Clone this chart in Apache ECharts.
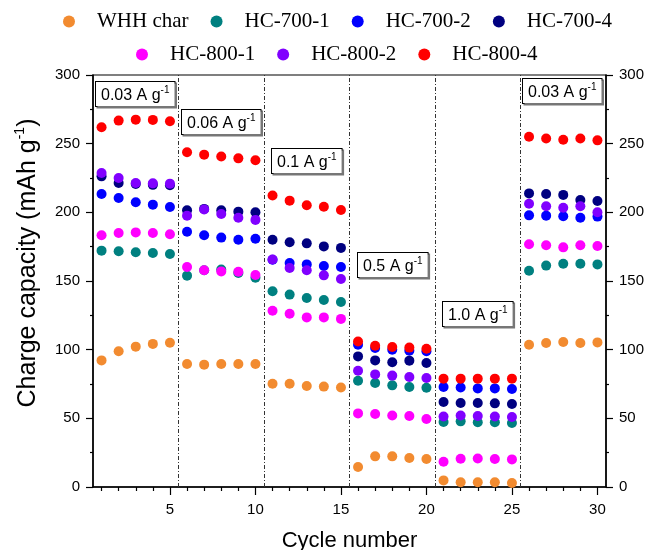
<!DOCTYPE html>
<html>
<head>
<meta charset="utf-8">
<script src="https://cdn.jsdelivr.net/npm/echarts@6/dist/echarts.min.js"></script>
<style>
  html, body { margin: 0; padding: 0; background: #fff; }
  #chart { width: 651px; height: 550px; }
</style>
</head>
<body>
<div id="chart"></div>
<script>
// cycle numbers (x)
const cycles = [1, 2, 3, 4, 5, 6, 7, 8, 9, 10, 11, 12, 13, 14, 15,
                16, 17, 18, 19, 20, 21, 22, 23, 24, 25, 26, 27, 28, 29, 30];

// charge capacity (mAh g-1)
const whhChar = [92.2, 98.8, 102.2, 104.2, 105.1, 89.6, 89.1, 89.6, 89.6, 89.6,
                 75.2, 75.2, 73.6, 73.1, 72.5, 14.6, 22.3, 22.3, 21.1, 20.4,
                 4.8, 3.4, 3.4, 3.4, 2.9, 103.6, 104.9, 105.6, 104.9, 105.3];
const hc7001 = [172.1, 171.6, 170.9, 170.4, 169.7, 153.9, 157.8, 158.3, 155.9, 152.4,
                142.5, 140.1, 137.6, 136.2, 134.7, 77.4, 75.7, 74.0, 72.8, 72.3,
                47.3, 47.8, 47.1, 47.1, 46.6, 157.5, 161.2, 162.6, 162.6, 162.1];
const hc7002 = [213.4, 210.5, 207.3, 205.6, 203.9, 185.9, 183.3, 181.6, 180.1, 180.8,
                165.5, 163.1, 162.1, 160.9, 160.2, 103.6, 101.2, 100.0, 99.3, 98.8,
                72.8, 72.5, 71.8, 71.8, 71.4, 197.8, 197.6, 197.1, 196.1, 196.9];
const hc7004 = [226.2, 221.4, 220.7, 220.0, 219.7, 201.5, 202.5, 201.5, 200.5, 200.0,
                180.1, 178.2, 177.4, 175.2, 174.1, 95.1, 92.2, 90.8, 92.0, 90.3,
                61.9, 61.2, 61.2, 60.9, 60.5, 213.8, 213.4, 212.7, 209.0, 208.3];
const hc8001 = [183.3, 185.0, 185.4, 185.0, 184.0, 160.2, 157.8, 157.0, 156.8, 154.4,
                128.4, 126.2, 123.5, 123.5, 122.4, 53.6, 53.2, 52.1, 51.7, 49.5,
                18.4, 20.6, 20.8, 20.4, 20.1, 176.7, 176.0, 174.5, 176.0, 175.5];
const hc8002 = [228.7, 225.0, 221.4, 221.1, 220.9, 197.6, 202.0, 198.8, 196.1, 194.5,
                165.6, 159.5, 157.8, 154.1, 151.5, 84.7, 82.0, 81.1, 80.1, 79.4,
                51.4, 52.1, 51.7, 51.4, 51.0, 206.3, 204.4, 203.4, 204.4, 200.0];
const hc8004 = [261.9, 266.8, 267.5, 267.3, 266.3, 243.7, 242.0, 240.6, 239.3, 237.9,
                212.2, 208.5, 205.1, 204.1, 201.7, 106.0, 102.9, 102.0, 101.5, 100.7,
                78.9, 78.9, 78.9, 78.9, 78.9, 255.1, 253.7, 252.9, 253.7, 252.4];

const seriesNames = ["WHH char", "HC-700-1", "HC-700-2", "HC-700-4", "HC-800-1", "HC-800-2", "HC-800-4"];
const seriesValues = [whhChar, hc7001, hc7002, hc7004, hc8001, hc8002, hc8004];
const seriesColors = ["#f28b30", "#008080", "#0000ff", "#000080", "#ff00ff", "#8000ff", "#ff0000"];

// current-density steps
const stepBounds = [5.5, 10.5, 15.5, 20.5, 25.5];
const rateLabels = ["0.03", "0.06", "0.1", "0.5", "1.0", "0.03"];

// tick labels
const xMajorTicks = [5, 10, 15, 20, 25, 30];
const xMinorTicks = [1, 2, 3, 4, 6, 7, 8, 9, 11, 12, 13, 14, 16, 17, 18, 19,
                     21, 22, 23, 24, 26, 27, 28, 29];

const sansFont = "Liberation Sans";
const serifFont = "Liberation Serif";

// box positions of the rate labels (px)
const ratePos = [[95, 81], [181, 109], [271, 148], [357, 252], [442, 301], [522, 78]];

const chart = echarts.init(document.getElementById("chart"));

const yAxisBase = {
    type: "value",
    min: 0,
    max: 300,
    interval: 50,
    axisLine: { show: true, lineStyle: { color: "#000", width: 1.5 } },
    axisTick: { show: true, inside: false, length: 7, lineStyle: { color: "#000", width: 1.2 } },
    minorTick: { show: true, splitNumber: 2, length: 3, lineStyle: { color: "#000", width: 1.2 } },
    axisLabel: { color: "#000", fontFamily: sansFont, fontSize: 15, margin: 13 },
    splitLine: { show: false }
};

const legendBase = {
    padding: 0,
    icon: "circle",
    itemWidth: 46,
    itemHeight: 12,
    itemGap: 22,
    textStyle: { fontFamily: serifFont, fontSize: 21, color: "#000" }
};

chart.setOption({
    animation: false,
    backgroundColor: "#fff",
    grid: {
        left: 93,
        right: 45,
        top: 75,
        height: 412,
        outerBoundsMode: "none",
        show: true,
        borderColor: "#000",
        borderWidth: 1.2
    },
    legend: [
        Object.assign({}, legendBase, { data: seriesNames.slice(0, 4), left: 63, top: 11 }),
        Object.assign({}, legendBase, { data: seriesNames.slice(4), left: 136, top: 44 })
    ],
    xAxis: [
        {
            type: "value",
            min: 0.5,
            max: 30.5,
            name: "Cycle number",
            nameLocation: "middle",
            nameGap: 43,
            nameTextStyle: { fontFamily: sansFont, fontSize: 22, color: "#000" },
            axisLine: { show: true, lineStyle: { color: "#000", width: 1.5 } },
            axisTick: { show: true, inside: false, length: 8, customValues: xMajorTicks, lineStyle: { color: "#000", width: 1.2 } },
            axisLabel: { color: "#000", fontFamily: sansFont, fontSize: 15, margin: 15, customValues: xMajorTicks },
            splitLine: { show: false }
        },
        {
            type: "value",
            min: 0.5,
            max: 30.5,
            position: "bottom",
            offset: 0,
            axisLine: { show: false },
            axisTick: { show: true, inside: false, length: 4, customValues: xMinorTicks, lineStyle: { color: "#000", width: 1.2 } },
            axisLabel: { show: false },
            splitLine: { show: false }
        }
    ],
    yAxis: [
        Object.assign({}, yAxisBase, { position: "left" }),
        Object.assign({}, yAxisBase, { position: "right" })
    ],
    graphic: [
        {
            type: "text",
            x: 27,
            y: 263,
            rotation: Math.PI / 2,
            style: {
                text: "{n|Charge capacity (mAh g}{s|-1}{n|)}",
                align: "center",
                verticalAlign: "middle",
                fill: "#000",
                rich: {
                    n: { fontFamily: sansFont, fontSize: 25, lineHeight: 27, verticalAlign: "bottom" },
                    s: { fontFamily: sansFont, fontSize: 14, lineHeight: 14, verticalAlign: "top" }
                }
            }
        }
    ].concat(rateLabels.map((rate, i) => ({
        type: "text",
        left: ratePos[i][0],
        top: ratePos[i][1],
        z: 100,
        style: {
            text: "{n|" + rate + " A g}{s|-1}",
            fill: "#000",
            backgroundColor: "#fff",
            borderColor: "#000",
            borderWidth: 1,
            padding: [3, 5, 2, 5],
            shadowColor: "#777",
            shadowOffsetX: 1.5,
            shadowOffsetY: 1.5,
            shadowBlur: 0,
            rich: {
                n: { fontFamily: sansFont, fontSize: 16, lineHeight: 19, verticalAlign: "bottom" },
                s: { fontFamily: sansFont, fontSize: 10, lineHeight: 10, verticalAlign: "top" }
            }
        }
    }))),
    series: seriesNames.map((name, k) => ({
        name: name,
        type: "scatter",
        xAxisIndex: 0,
        yAxisIndex: 0,
        symbol: "circle",
        symbolSize: 10,
        itemStyle: { color: seriesColors[k], opacity: 1 },
        data: cycles.map((c, i) => [c, seriesValues[k][i]]),
        markLine: k === 0 ? {
            silent: true,
            symbol: "none",
            label: { show: false },
            lineStyle: { color: "#333", width: 1, type: [4, 2, 1, 2] },
            data: stepBounds.map(v => ({ xAxis: v }))
        } : undefined
    }))
});
</script>
</body>
</html>
